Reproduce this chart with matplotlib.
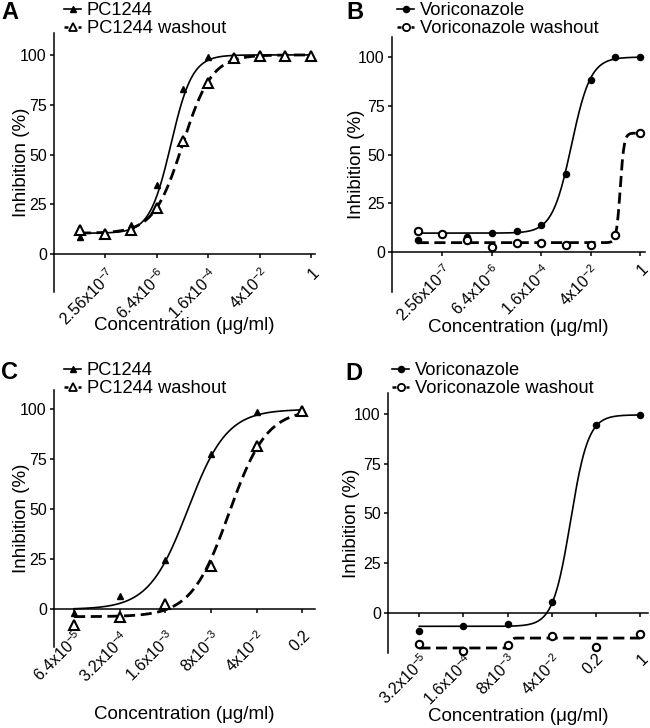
import numpy as np
import matplotlib
matplotlib.use('Agg')
import matplotlib.pyplot as plt
from matplotlib.ticker import NullLocator, FixedLocator, FixedFormatter

plt.rcParams['font.family'] = ['Liberation Sans', 'DejaVu Sans']
plt.rcParams['mathtext.default'] = 'regular'

# ── Data ──────────────────────────────────────────────────────────────────────
# panels A/B: 10-point 5-fold dilution series (µg/ml)
conc_ab = [5.12e-7, 2.56e-6, 1.28e-5, 6.4e-5, 3.2e-4, 1.6e-3, 8e-3, 0.04, 0.2, 1.0]
ticks_ab = [r'2.56x10$^{-7}$', r'6.4x10$^{-6}$', r'1.6x10$^{-4}$', r'4x10$^{-2}$', '1']

a_pc     = [8.4, 10.4, 14.6, 34.7, 82.7, 98.8, 99.0, 99.8, 99.6, 99.7]
a_pc_wo  = [12.0, 10.2, 12.0, 23.0, 57.0, 86.0, 98.5, 99.5, 99.5, 99.5]
b_vori    = [6.3, 9.5, 7.5, 9.7, 10.6, 14.0, 39.8, 88.0, 99.8, 100.0]
b_vori_wo = [10.6, 9.0, 6.0, 2.4, 4.6, 4.6, 3.4, 3.8, 8.9, 61.0]

# panel C
conc_c  = [6.4e-5, 3.2e-4, 1.6e-3, 8e-3, 0.04, 0.2]
ticks_c = [r'6.4x10$^{-5}$', r'3.2x10$^{-4}$', r'1.6x10$^{-3}$', r'8x10$^{-3}$', r'4x10$^{-2}$', '0.2']
c_pc    = [-2.2, 6.2, 24.5, 77.6, 98.8, 99.3]
c_pc_wo = [-8.3, -4.3, 2.3, 21.2, 81.6, 99.0]

# panel D
conc_d  = [3.2e-4, 1.6e-3, 8e-3, 0.04, 0.2, 1.0]
ticks_d = [r'3.2x10$^{-5}$', r'1.6x10$^{-4}$', r'8x10$^{-3}$', r'4x10$^{-2}$', '0.2', '1']
d_vori    = [-8.9, -6.7, -5.5, 5.3, 94.3, 99.7]
d_vori_wo = [-15.6, -18.9, -16.1, -11.7, -17.3, -10.6]

# fitted 4-parameter logistic curves: (bottom, top, logEC50, hill)
fit_a_pc     = (10.5, 100.0, -3.81, 1.5)
fit_a_pc_wo  = (10.5, 100.0, -3.49, 1.1)
fit_b_vori    = (9.7, 100.0, -1.94, 1.6)
fit_b_vori_wo = (4.8, 61.0, -0.56, 8.0)
fit_c_pc     = (-0.3, 100.0, -2.45, 1.45)
fit_c_pc_wo  = (-4.0, 100.0, -1.82, 1.5)
fit_d_vori    = (-6.7, 99.5, -1.10, 3.1)
fit_d_vori_wo = (-17.6, -12.6, -2.03, 40.0)


def logistic(conc, fit):
    bottom, top, logec, hill = fit
    x = np.log10(conc)
    return bottom + (top - bottom) / (1 + 10 ** ((logec - x) * hill))


def draw_series(ax, conc, y, fit, filled, marker):
    xs = np.logspace(np.log10(conc[0]), np.log10(conc[-1]), 400)
    if filled:
        ax.plot(xs, logistic(xs, fit), '-', color='black', lw=1.2, zorder=2)
        ax.plot(conc, y, marker, color='black', ms=4.4 if marker == 'o' else 4.5,
                ls='none', zorder=3, clip_on=False)
    else:
        ax.plot(xs, logistic(xs, fit), '--', color='black', lw=2.0,
                dashes=(4, 2), zorder=2)
        ax.plot(conc, y, marker, mfc='white', mec='black', mew=1.5,
                ms=5.3 if marker == 'o' else 6.5, ls='none', zorder=4, clip_on=False)


def style_axis(ax, conc, tick_idx, labels, pad_l, pad_r, ylim, lab_pad, xlab_y, ylab_x):
    ax.set_xscale('log')
    step = np.log10(5)
    ax.set_xlim(conc[0] * 10 ** (-pad_l * step), conc[-1] * 10 ** (pad_r * step))
    ax.set_ylim(*ylim)
    ax.xaxis.set_major_locator(FixedLocator([conc[i] for i in tick_idx]))
    ax.xaxis.set_major_formatter(FixedFormatter(labels))
    ax.xaxis.set_minor_locator(NullLocator())
    ax.set_yticks([0, 25, 50, 75, 100])
    ax.spines['top'].set_visible(False)
    ax.spines['right'].set_visible(False)
    ax.spines['bottom'].set_position(('data', 0))
    for s in ('left', 'bottom'):
        ax.spines[s].set_linewidth(1.1)
    ax.tick_params(axis='both', direction='out', length=3.2, width=1.1)
    ax.tick_params(axis='y', labelsize=11.5, pad=2)
    ax.tick_params(axis='x', labelsize=11.5, pad=lab_pad)
    for lab in ax.get_xticklabels():
        lab.set_rotation(45)
        lab.set_ha('right')
        lab.set_va('top')
        lab.set_rotation_mode('anchor')
    ax.set_xlabel('Concentration (μg/ml)', fontsize=13.5)
    ax.set_ylabel('Inhibition (%)', fontsize=13.5)
    ax.xaxis.set_label_coords(0.5, xlab_y)
    ax.yaxis.set_label_coords(ylab_x, 0.5)


W, H = 650, 728
fig = plt.figure(figsize=(6.5, 7.28), dpi=100)


def add_ax(x0, x1, ytop, ybot):
    return fig.add_axes([x0 / W, 1 - ybot / H, (x1 - x0) / W, (ybot - ytop) / H])


axA = add_ax(54, 315, 33, 292)
axB = add_ax(392, 645, 37, 292)
axC = add_ax(54, 315, 390, 647)
axD = add_ax(388, 648, 393, 653)

# A
draw_series(axA, conc_ab, a_pc, fit_a_pc, True, '^')
draw_series(axA, conc_ab, a_pc_wo, fit_a_pc_wo, False, '^')
style_axis(axA, conc_ab, [1, 3, 5, 7, 9], ticks_ab, 1.0, 0.15, (-19, 111), 4.5, -0.095, -0.092)

# B
draw_series(axB, conc_ab, b_vori, fit_b_vori, True, 'o')
draw_series(axB, conc_ab, b_vori_wo, fit_b_vori_wo, False, 'o')
style_axis(axB, conc_ab, [1, 3, 5, 7, 9], ticks_ab, 1.04, 0.2, (-20.5, 110.3), 3.5, -0.105, -0.106)

# C
draw_series(axC, conc_c, c_pc, fit_c_pc, True, '^')
draw_series(axC, conc_c, c_pc_wo, fit_c_pc_wo, False, '^')
style_axis(axC, conc_c, range(6), ticks_c, 0.44, 0.28, (-19.2, 109.7), 10.5, -0.23, -0.092)

# D
draw_series(axD, conc_d, d_vori, fit_d_vori, True, 'o')
draw_series(axD, conc_d, d_vori_wo, fit_d_vori_wo, False, 'o')
style_axis(axD, conc_d, range(6), ticks_d, 0.71, 0.18, (-20.1, 110.5), 24, -0.21, -0.108)


# legends above each panel
def add_legend(ax, marker, names, x, y):
    h1, = ax.plot([], [], '-', color='black', lw=1.2, marker=marker,
                  ms=4.5 if marker == '^' else 4.4)
    h2, = ax.plot([], [], '--', color='black', lw=1.8, dashes=(1.6, 1.2), marker=marker,
                  mfc='white', mec='black', mew=1.3, ms=5.2)
    ax.legend([h1, h2], names, loc='upper left', bbox_to_anchor=(x / W, 1 - y / H),
              bbox_transform=fig.transFigure, frameon=False, fontsize=13.2,
              borderpad=0, borderaxespad=0, handlelength=0.95, handletextpad=0.3,
              labelspacing=0.08, numpoints=1)


add_legend(axA, '^', ['PC1244', 'PC1244 washout'], 64, 2)
add_legend(axB, 'o', ['Voriconazole', 'Voriconazole washout'], 397, 2)
add_legend(axC, '^', ['PC1244', 'PC1244 washout'], 64, 362)
add_legend(axD, 'o', ['Voriconazole', 'Voriconazole washout'], 392, 362)

# panel letters
for letter, x, y in [('A', 1, 1), ('B', 346, 1), ('C', 1, 361), ('D', 345, 362)]:
    fig.text(x / W, 1 - y / H, letter, fontsize=17, fontweight='bold', ha='left', va='top')

fig.savefig('out.png', dpi=100)
